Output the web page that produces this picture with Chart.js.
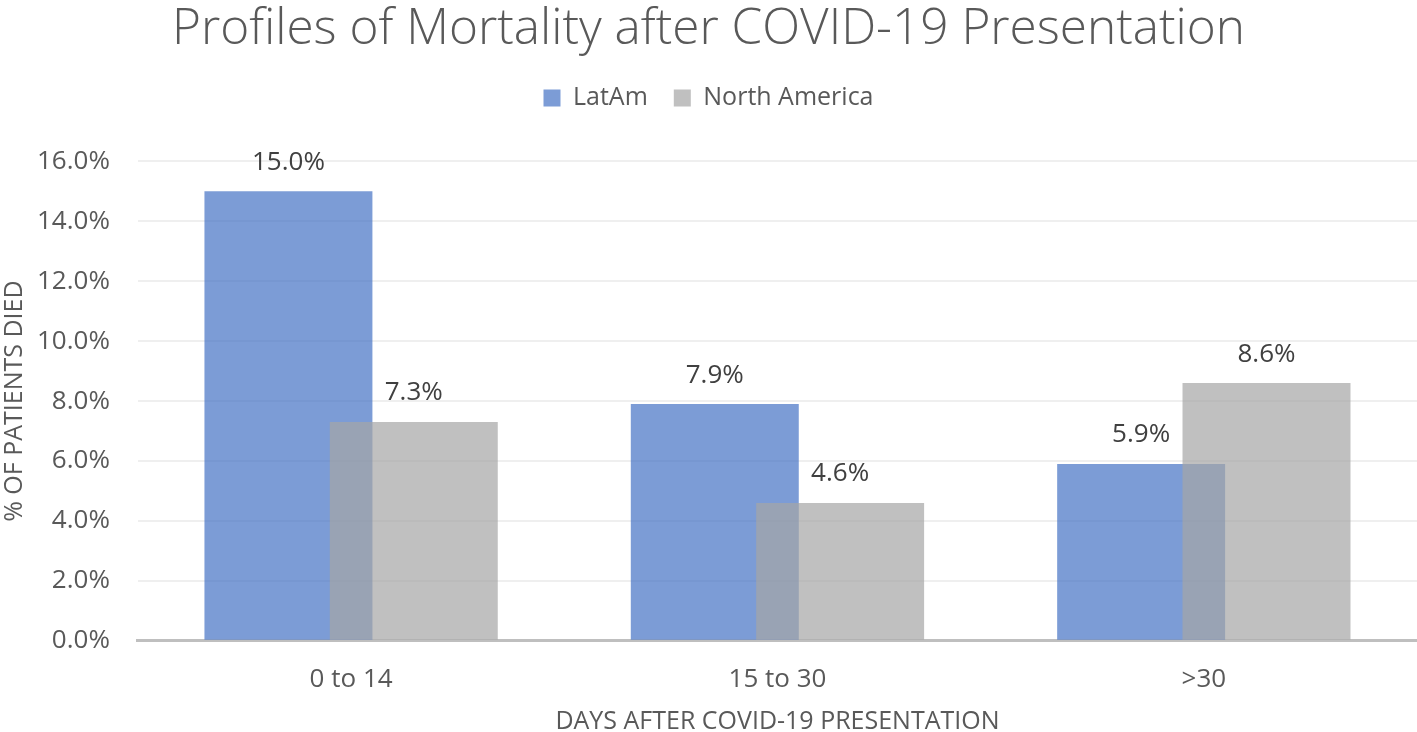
<!DOCTYPE html>
<html>
<head>
<meta charset="utf-8">
<script src="https://cdn.jsdelivr.net/npm/chart.js@4.4.1/dist/chart.umd.min.js"></script>
<style>
    html, body { margin: 0; padding: 0; background: #fff; }
    #wrap { width: 1417px; height: 732px; }
</style>
</head>
<body>
<div id="wrap"><canvas id="chart"></canvas></div>
<script>
// ── 資料 ──
const CATEGORIES = ['0 to 14', '15 to 30', '>30'];
const LATAM      = [15.0, 7.9, 5.9];
const NORTH_AM   = [7.3, 4.6, 8.6];
const Y_TICKS    = [0, 2, 4, 6, 8, 10, 12, 14, 16];

const FONT = "'Open Sans', 'Noto Sans', sans-serif";

// ── 柱上數值標籤 ──
const valueLabels = {
    id: 'valueLabels',
    afterDatasetsDraw(chart) {
        const ctx = chart.ctx;
        ctx.save();
        ctx.font = `26px ${FONT}`;
        ctx.fillStyle = '#404040';
        ctx.textAlign = 'center';
        ctx.textBaseline = 'middle';
        chart.data.datasets.forEach((ds, i) => {
            chart.getDatasetMeta(i).data.forEach((bar, j) => {
                ctx.fillText(ds.data[j].toFixed(1) + '%', bar.x, bar.y - 29);
            });
        });
        ctx.restore();
    }
};

// ── 讓右側系列 (North America) 疊在 LatAm 之上 ──
const drawOrder = {
    id: 'drawOrder',
    beforeDatasetDraw(chart, args) {
        if (args.index === 0) return false;
        if (args.index === 1) chart.getDatasetMeta(0).controller.draw();
    }
};

// ── 圖例下方留白 ──
const legendGap = {
    id: 'legendGap',
    beforeInit(chart) {
        const fit = chart.legend.fit;
        chart.legend.fit = function () {
            fit.bind(chart.legend)();
            this.height += 41;
        };
    }
};

new Chart(document.getElementById('chart').getContext('2d'), {
    type: 'bar',
    data: {
        labels: CATEGORIES,
        datasets: [
            {
                label: 'LatAm',
                data: LATAM,
                backgroundColor: 'rgba(68,114,196,0.7)',
                categoryPercentage: 0.588,
                barPercentage: 1.34
            },
            {
                label: 'North America',
                data: NORTH_AM,
                backgroundColor: 'rgba(165,165,165,0.7)',
                categoryPercentage: 0.588,
                barPercentage: 1.34
            }
        ]
    },
    options: {
        responsive: true,
        maintainAspectRatio: false,
        animation: false,
        layout: { padding: 0 },
        plugins: {
            title: {
                display: true,
                text: 'Profiles of Mortality after COVID-19 Presentation',
                color: '#595959',
                font: { family: FONT, size: 49.5, weight: '300' },
                padding: { top: 0, bottom: 0 }
            },
            legend: {
                display: true,
                position: 'top',
                labels: {
                    color: '#595959',
                    font: { family: FONT, size: 25 },
                    boxWidth: 17,
                    boxHeight: 17,
                    padding: 26
                }
            },
            tooltip: { enabled: false }
        },
        scales: {
            x: {
                grid: { display: false },
                border: { color: '#BFBFBF', width: 3 },
                ticks: {
                    color: '#595959',
                    font: { family: FONT, size: 26 },
                    padding: 15
                },
                title: {
                    display: true,
                    text: 'DAYS AFTER COVID-19 PRESENTATION',
                    color: '#595959',
                    font: { family: FONT, size: 25 },
                    padding: { top: -3, bottom: -5 }
                }
            },
            y: {
                min: 0,
                max: 16,
                afterBuildTicks: axis => { axis.ticks = Y_TICKS.map(v => ({ value: v })); },
                grid: { color: '#EFEFEF', lineWidth: 2, drawTicks: false },
                border: { display: false },
                ticks: {
                    color: '#595959',
                    font: { family: FONT, size: 26 },
                    padding: 28,
                    callback: v => v.toFixed(1) + '%'
                },
                title: {
                    display: true,
                    text: '% OF PATIENTS DIED',
                    color: '#595959',
                    font: { family: FONT, size: 25 },
                    padding: { top: 0, bottom: -21 }
                }
            }
        }
    },
    plugins: [valueLabels, drawOrder, legendGap]
});
</script>
</body>
</html>
